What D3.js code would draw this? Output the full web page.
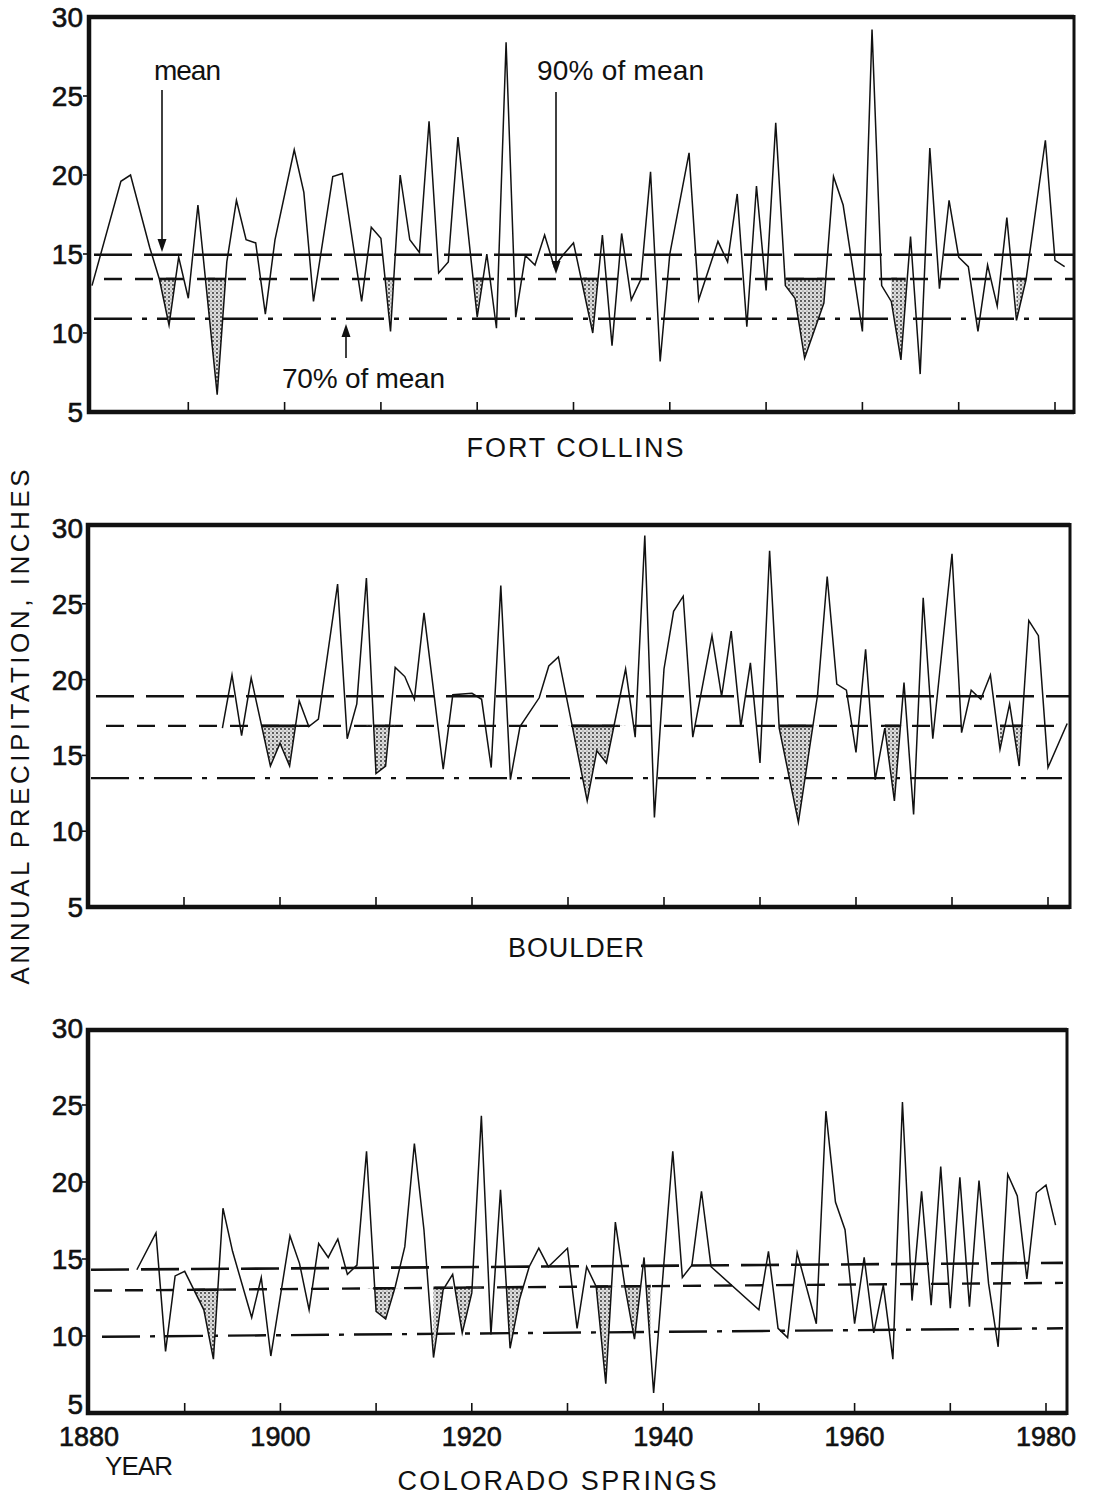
<!DOCTYPE html>
<html>
<head>
<meta charset="utf-8">
<script src="https://cdn.jsdelivr.net/npm/d3@7"></script>
<style>
  body { margin: 0; background: #fff; }
  text { font-family: "Liberation Sans", Arial, sans-serif; fill: #111; }
  .num { stroke: #111; stroke-width: 0.6; }
</style>
</head>
<body>
<svg id="chart" width="1105" height="1499"></svg>
<script>
// Annual precipitation, inches: [year, inches]
const fortCollins = [
  [1880,13.0],[1883,19.6],[1884,20.0],[1886,15.4],[1887,13.4],[1888,10.5],[1889,14.8],[1890,12.2],
  [1891,18.1],[1893,6.1],[1894,14.5],[1895,18.4],[1896,15.9],[1897,15.7],[1898,11.2],[1899,15.9],
  [1901,21.6],[1902,18.9],[1903,12.0],[1905,19.9],[1906,20.1],[1908,12.0],[1909,16.7],[1910,16.0],
  [1911,10.1],[1912,20.0],[1913,15.9],[1914,15.1],[1915,23.4],[1916,13.8],[1917,14.5],[1918,22.4],
  [1920,11.0],[1921,15.0],[1922,10.3],[1923,28.4],[1924,11.0],[1925,14.9],[1926,14.3],[1927,16.2],
  [1928,14.2],[1929,15.0],[1930,15.7],[1932,10.0],[1933,16.2],[1934,9.2],[1935,16.3],[1936,12.1],
  [1937,13.4],[1938,20.2],[1939,8.2],[1940,15.0],[1942,21.4],[1943,12.1],[1945,15.8],[1946,14.5],
  [1947,18.8],[1948,10.4],[1949,19.3],[1950,12.7],[1951,23.3],[1952,13.0],[1953,12.2],[1954,8.4],
  [1956,11.9],[1957,19.9],[1958,18.1],[1960,10.1],[1961,29.2],[1962,13.0],[1963,12.0],[1964,8.3],
  [1965,16.1],[1966,7.4],[1967,21.7],[1968,12.8],[1969,18.4],[1970,14.8],[1971,14.2],[1972,10.1],
  [1973,14.3],[1974,11.7],[1975,17.3],[1976,10.8],[1977,13.4],[1979,22.2],[1980,14.6],[1981,14.2]
];
const boulder = [
  [1894,16.8],[1895,20.3],[1896,16.3],[1897,20.1],[1899,14.3],[1900,15.8],[1901,14.3],[1902,18.6],
  [1903,16.9],[1904,17.4],[1906,26.3],[1907,16.1],[1908,18.4],[1909,26.7],[1910,13.8],[1911,14.3],
  [1912,20.8],[1913,20.2],[1914,18.7],[1915,24.4],[1917,14.1],[1918,19.0],[1920,19.1],[1921,18.7],
  [1922,14.2],[1923,26.2],[1924,13.4],[1925,16.9],[1927,18.8],[1928,20.9],[1929,21.5],[1932,12.0],
  [1933,15.3],[1934,14.5],[1936,20.7],[1937,16.2],[1938,29.5],[1939,10.9],[1940,20.7],[1941,24.5],
  [1942,25.5],[1943,16.2],[1945,22.9],[1946,18.9],[1947,23.2],[1948,16.9],[1949,21.1],[1950,14.5],
  [1951,28.5],[1952,16.8],[1954,10.6],[1956,19.0],[1957,26.8],[1958,19.7],[1959,19.3],[1960,15.2],
  [1961,22.0],[1962,13.4],[1963,16.8],[1964,12.0],[1965,19.8],[1966,11.1],[1967,25.4],[1968,16.1],
  [1970,28.3],[1971,16.5],[1972,19.3],[1973,18.7],[1974,20.3],[1975,15.4],[1976,18.4],[1977,14.3],
  [1978,23.9],[1979,22.9],[1980,14.2],[1982,17.1]
];
const coloradoSprings = [
  [1885,14.3],[1887,16.7],[1888,9.0],[1889,13.9],[1890,14.2],[1892,11.7],[1893,8.5],[1894,18.3],
  [1895,15.5],[1897,11.2],[1898,13.8],[1899,8.7],[1901,16.5],[1902,14.7],[1903,11.7],[1904,16.0],
  [1905,15.1],[1906,16.3],[1907,14.0],[1908,14.6],[1909,22.0],[1910,11.6],[1911,11.1],[1912,13.2],
  [1913,15.8],[1914,22.5],[1915,16.9],[1916,8.6],[1917,13.0],[1918,14.0],[1919,10.2],[1920,12.8],
  [1921,24.3],[1922,10.1],[1923,19.5],[1924,9.2],[1925,12.4],[1926,14.5],[1927,15.7],[1928,14.5],
  [1930,15.7],[1931,10.5],[1932,14.5],[1933,13.2],[1934,6.9],[1935,17.4],[1936,13.2],[1937,9.8],
  [1938,15.1],[1939,6.3],[1941,22.0],[1942,13.8],[1943,14.6],[1944,19.4],[1945,14.5],[1950,11.7],
  [1951,15.5],[1952,10.5],[1953,9.9],[1954,15.4],[1956,10.8],[1957,24.6],[1958,18.7],[1959,16.9],
  [1960,10.8],[1961,15.1],[1962,10.2],[1963,13.3],[1964,8.5],[1965,25.2],[1966,12.3],[1967,19.4],
  [1968,12.0],[1969,21.0],[1970,11.8],[1971,20.3],[1972,11.9],[1973,20.1],[1974,13.4],[1975,9.3],
  [1976,20.5],[1977,19.1],[1978,13.7],[1979,19.3],[1980,19.8],[1981,17.2]
];

// Reference levels, value at the left and right end of each line:
// mean, 90% of mean, 70% of mean
const fortCollinsLevels = [[14.95, 14.95], [13.42, 13.42], [10.9, 10.9]];
const boulderLevels = [[18.9, 18.9], [16.95, 16.95], [13.5, 13.5]];
const coloradoSpringsLevels = [[14.3, 14.75], [12.95, 13.45], [9.95, 10.5]];

// Dry spells, shaded where precipitation falls below 90% of mean
const fortCollinsDry = [[1886, 1889], [1892, 1894], [1910, 1912], [1919, 1921], [1931, 1933],
  [1952, 1956], [1963, 1964.5], [1976, 1978]];
const boulderDry = [[1898, 1902], [1909, 1912], [1930, 1936], [1952, 1956], [1963, 1965], [1975, 1978]];
const coloradoSpringsDry = [[1891, 1894], [1909, 1913], [1916, 1921], [1923, 1926], [1933, 1935],
  [1935.5, 1938], [1938.2, 1938.7]];

const stationNames = ["FORT COLLINS", "BOULDER", "COLORADO SPRINGS"];
const valueTicks = [5, 10, 15, 20, 25, 30];
const decadeTicks = [1890, 1900, 1910, 1920, 1930, 1940, 1950, 1960, 1970, 1980];
const yearLabels = [1880, 1900, 1920, 1940, 1960, 1980];
const axisTitle = "ANNUAL PRECIPITATION, INCHES";
const xAxisName = "YEAR";

const svg = d3.select("#chart");

// stipple fill for the dry spells
const defs = svg.append("defs");
const pat = defs.append("pattern").attr("id", "stipple")
  .attr("patternUnits", "userSpaceOnUse").attr("width", 4).attr("height", 4);
pat.append("rect").attr("width", 4).attr("height", 4).attr("fill", "#dedede");
pat.append("circle").attr("cx", 1).attr("cy", 1).attr("r", 0.9).attr("fill", "#222");
pat.append("circle").attr("cx", 3).attr("cy", 3).attr("r", 0.6).attr("fill", "#555");

const panels = [
  { name: stationNames[0], series: fortCollins, levels: fortCollinsLevels, dry: fortCollinsDry,
    frame: { l: 89, r: 1074, t: 17, b: 412 }, xr: [92, 1055], yr: [412, 17],
    spans: [[94, 1074], [104, 1074], [94, 1074]], title: { x: 575, y: 457, len: 217 } },
  { name: stationNames[1], series: boulder, levels: boulderLevels, dry: boulderDry,
    frame: { l: 88, r: 1070, t: 525, b: 907 }, xr: [88, 1048], yr: [907, 528],
    spans: [[96, 1070], [106, 1067], [91, 1062]], title: { x: 576, y: 957, len: 136 } },
  { name: stationNames[2], series: coloradoSprings, levels: coloradoSpringsLevels, dry: coloradoSpringsDry,
    frame: { l: 88, r: 1067, t: 1030, b: 1413 }, xr: [89, 1046], yr: [1413, 1028],
    spans: [[91, 1063], [94, 1063], [102, 1063]], title: { x: 557, y: 1490, len: 319 } }
];

const dashes = ["38 12", "18 13", "38 10 5 10"];
const levelWidths = [2.6, 2.4, 2.4];

panels.forEach((p, pi) => {
  const x = d3.scaleLinear().domain([1880, 1980]).range(p.xr);
  const y = d3.scaleLinear().domain([5, 30]).range(p.yr);
  const g = svg.append("g");

  // value of reference line k at pixel column px
  const levelAt = (k, px) => {
    const [v0, v1] = p.levels[k];
    const [s0, s1] = p.spans[k];
    return v0 + (v1 - v0) * (px - s0) / (s1 - s0);
  };
  const levelY = (k, px) => y(levelAt(k, px));

  // reference lines
  p.levels.forEach((lv, k) => {
    const [s0, s1] = p.spans[k];
    g.append("line")
      .attr("x1", s0).attr("x2", s1)
      .attr("y1", levelY(k, s0)).attr("y2", levelY(k, s1))
      .attr("stroke", "#111").attr("stroke-width", levelWidths[k])
      .attr("stroke-dasharray", dashes[k]);
  });

  // dry-spell shading between the series and the 90% line
  const area = d3.area()
    .x(d => x(d[0]))
    .y0(d => levelY(1, x(d[0])))
    .y1(d => y(d[1]));

  // pixel intervals where the series lies below the 90% line
  const below = [];
  let start = null;
  p.series.forEach((d, i) => {
    const px = x(d[0]), f = y(d[1]) - levelY(1, px);
    if (i > 0) {
      const q = p.series[i - 1];
      const qx = x(q[0]), gq = y(q[1]) - levelY(1, qx);
      if ((gq > 0) !== (f > 0)) {
        const cx = qx + gq / (gq - f) * (px - qx);
        if (f > 0) start = cx; else { below.push([start, cx]); start = null; }
      }
    } else if (f > 0) start = px;
  });
  if (start !== null) below.push([start, x(p.series[p.series.length - 1][0])]);

  p.dry.forEach((span, j) => {
    const xa = x(span[0]), xb = x(span[1]);
    const id = `clip-${pi}-${j}`;
    defs.append("clipPath").attr("id", id).append("polygon")
      .attr("points", [[xa, levelY(1, xa)], [xb, levelY(1, xb)], [xb, p.frame.b], [xa, p.frame.b]]
        .map(pt => pt.join(",")).join(" "));
    g.append("path").datum(p.series)
      .attr("d", area).attr("fill", "url(#stipple)")
      .attr("clip-path", `url(#${id})`);
    below.forEach(([a, b]) => {
      const lo = Math.max(a, xa), hi = Math.min(b, xb);
      if (hi > lo) {
        g.append("line").attr("x1", lo).attr("x2", hi)
          .attr("y1", levelY(1, lo)).attr("y2", levelY(1, hi))
          .attr("stroke", "#111").attr("stroke-width", 2.6);
      }
    });
  });

  // annual series
  g.append("path").datum(p.series)
    .attr("d", d3.line().x(d => x(d[0])).y(d => y(d[1])))
    .attr("fill", "none").attr("stroke", "#111").attr("stroke-width", 1.5)
    .attr("stroke-linejoin", "miter").attr("stroke-miterlimit", 6);

  // frame
  const f = p.frame;
  g.append("path")
    .attr("d", `M${f.r},${f.t} L${f.l},${f.t} L${f.l},${f.b} L${f.r},${f.b}`)
    .attr("fill", "none").attr("stroke", "#111").attr("stroke-width", 4.5)
    .attr("stroke-linejoin", "miter");
  g.append("line").attr("x1", f.r).attr("x2", f.r).attr("y1", f.t - 2).attr("y2", f.b + 2)
    .attr("stroke", "#111").attr("stroke-width", 3);

  // decade ticks on the bottom edge
  g.selectAll(".xt").data(decadeTicks).join("line")
    .attr("x1", d => x(d)).attr("x2", d => x(d))
    .attr("y1", f.b).attr("y2", f.b - 10)
    .attr("stroke", "#111").attr("stroke-width", 1.6);

  // value axis; on the bottom panel the 5 sits a little higher, clear of the year labels
  g.selectAll(".yt").data(valueTicks.slice(1, -1)).join("line")
    .attr("x1", f.l - 6).attr("x2", f.l)
    .attr("y1", d => y(d)).attr("y2", d => y(d))
    .attr("stroke", "#111").attr("stroke-width", 1.6);
  g.selectAll(".yl").data(valueTicks).join("text")
    .attr("class", "num")
    .attr("x", 83).attr("y", d => y(d) - (pi === 2 && d === 5 ? 9 : 0))
    .attr("dy", "0.36em").attr("text-anchor", "end")
    .attr("font-size", 28).text(d => d);

  // station name
  g.append("text").attr("x", p.title.x).attr("y", p.title.y)
    .attr("text-anchor", "middle").attr("font-size", 27)
    .attr("textLength", p.title.len).attr("lengthAdjust", "spacing")
    .text(p.name);

  if (pi === 2) {
    g.selectAll(".xl").data(yearLabels).join("text")
      .attr("class", "num")
      .attr("x", d => x(d)).attr("y", 1446)
      .attr("text-anchor", "middle").attr("font-size", 27).text(d => d);
    g.append("text").attr("x", 105).attr("y", 1475)
      .attr("font-size", 26).attr("textLength", 68).attr("lengthAdjust", "spacing")
      .text(xAxisName);
  }
});

// shared value-axis title
svg.append("text")
  .attr("transform", "translate(29,727) rotate(-90)")
  .attr("text-anchor", "middle").attr("font-size", 26)
  .attr("textLength", 515).attr("lengthAdjust", "spacing")
  .text(axisTitle);

// annotations for the reference lines (Fort Collins panel)
const notes = svg.append("g");
function arrow(xp, y0, tip) {
  const dir = tip > y0 ? 1 : -1;
  notes.append("line").attr("x1", xp).attr("x2", xp).attr("y1", y0).attr("y2", tip - dir * 10)
    .attr("stroke", "#111").attr("stroke-width", 1.6);
  notes.append("path")
    .attr("d", `M${xp},${tip} L${xp - 4.5},${tip - dir * 13} L${xp + 4.5},${tip - dir * 13} Z`)
    .attr("fill", "#111");
}
notes.append("text").attr("x", 154).attr("y", 80).attr("font-size", 28)
  .attr("textLength", 67).attr("lengthAdjust", "spacing").text("mean");
arrow(162, 90, 252);
notes.append("text").attr("x", 537).attr("y", 80).attr("font-size", 28)
  .attr("textLength", 167).attr("lengthAdjust", "spacing").text("90% of mean");
arrow(556, 92, 274);
notes.append("text").attr("x", 282).attr("y", 388).attr("font-size", 28)
  .attr("textLength", 163).attr("lengthAdjust", "spacing").text("70% of mean");
arrow(346, 358, 324);
</script>
</body>
</html>
